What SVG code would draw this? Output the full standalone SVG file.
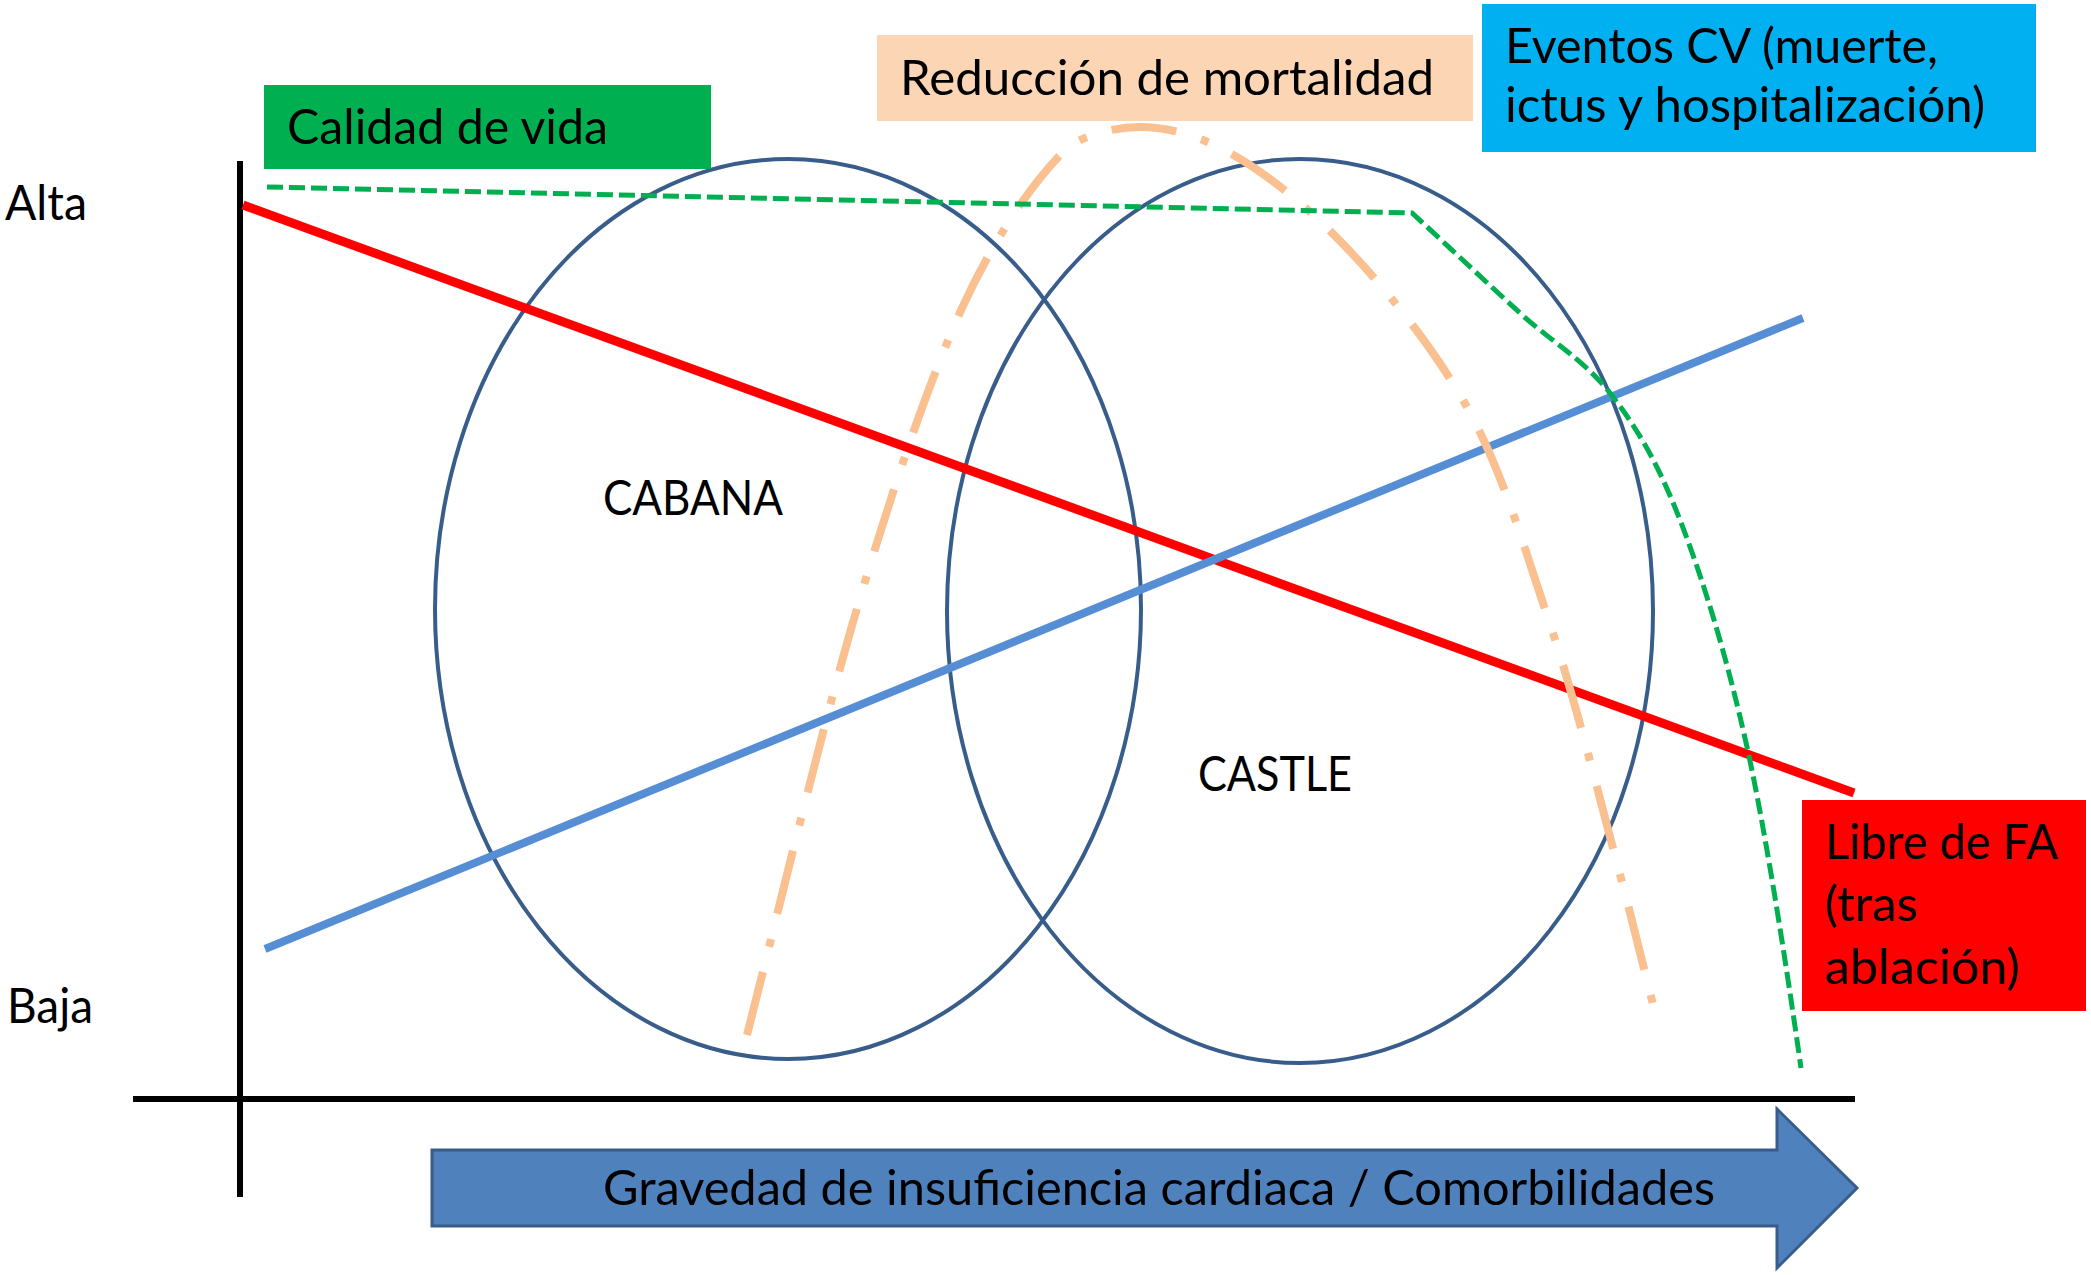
<svg xmlns="http://www.w3.org/2000/svg" width="2091" height="1275" viewBox="0 0 2091 1275">
<style>
  .t { font-family: Lato, "Open Sans", "Liberation Sans", sans-serif; font-size: 48px; fill: #000; }
  .ell { fill: none; stroke: #385D8A; stroke-width: 4; }
  .axis { stroke: #000; stroke-width: 6; fill: none; }
</style>
<rect width="2091" height="1275" fill="#fff"/>

<g id="cabana">
  <ellipse class="ell" cx="788" cy="609" rx="353" ry="450"/>
  <text class="t" x="603" y="515" textLength="180" lengthAdjust="spacingAndGlyphs">CABANA</text>
</g>
<g id="castle">
  <ellipse class="ell" cx="1300" cy="611" rx="353" ry="452"/>
  <text class="t" x="1198" y="791" textLength="154" lengthAdjust="spacingAndGlyphs">CASTLE</text>
</g>

<g id="axes">
  <line class="axis" x1="240" y1="161" x2="240" y2="1197"/>
  <line class="axis" x1="133" y1="1099" x2="1855" y2="1099"/>
  <text class="t" x="5" y="220" textLength="82" lengthAdjust="spacingAndGlyphs">Alta</text>
  <text class="t" x="7" y="1023" textLength="86" lengthAdjust="spacingAndGlyphs">Baja</text>
</g>

<g id="connectors">
  <line id="libre-line" x1="243" y1="205" x2="1854" y2="793" stroke="#FF0000" stroke-width="9"/>
  <line id="eventos-line" x1="265" y1="949" x2="1803" y2="318" stroke="#558ED5" stroke-width="8"/>
  <path id="mortalidad-curve" fill="none" stroke="#FAC090" stroke-width="8" stroke-dasharray="65 26 8 26"
    d="M747,1035 C770,946 822,726 858,605 C894,484 928,384 962,308 C997,232 1035,180 1065,150 C1077,138 1110,127 1140,127 C1190,127 1240,153 1293,197 C1346,241 1415,320 1457,390 C1500,460 1521,539 1548,618 C1575,698 1600,800 1618,867 C1636,934 1646,978 1657,1020"/>
  <path id="calidad-curve" fill="none" stroke="#00B050" stroke-width="5" stroke-dasharray="16 6"
    d="M267,187 L1412,213 C1448,246 1487,283 1520,313 C1553,343 1583,359 1610,393 C1637,428 1657,461 1680,520 C1703,579 1727,657 1747,747 C1767,837 1790,990 1801,1068"/>
</g>

<g id="calidad-label">
  <rect x="264" y="85" width="447" height="84" fill="#00B050"/>
  <text class="t" x="287" y="144" textLength="321" lengthAdjust="spacingAndGlyphs">Calidad de vida</text>
</g>
<g id="mortalidad-label">
  <rect x="877" y="35" width="596" height="86" fill="#FCD5B5"/>
  <text class="t" x="900" y="95" textLength="534" lengthAdjust="spacingAndGlyphs">Reducción de mortalidad</text>
</g>
<g id="eventos-label">
  <rect x="1482" y="4" width="554" height="148" fill="#00B0F0"/>
  <text class="t" x="1505" y="63" textLength="433" lengthAdjust="spacingAndGlyphs">Eventos CV (muerte,</text>
  <text class="t" x="1505" y="122" textLength="480" lengthAdjust="spacingAndGlyphs">ictus y hospitalización)</text>
</g>
<g id="libre-label">
  <rect x="1802" y="800" width="284" height="211" fill="#FF0000"/>
  <text class="t" x="1825" y="859" textLength="233" lengthAdjust="spacingAndGlyphs">Libre de FA</text>
  <text class="t" x="1825" y="921" textLength="93" lengthAdjust="spacingAndGlyphs">(tras</text>
  <text class="t" x="1825" y="984" textLength="195" lengthAdjust="spacingAndGlyphs">ablación)</text>
</g>

<g id="gravedad-arrow">
  <path d="M432,1150 L1777,1150 L1777,1109 L1857,1188 L1777,1268 L1777,1226 L432,1226 Z" fill="#4F81BD" stroke="#385D8A" stroke-width="3"/>
  <text class="t" x="603" y="1205" textLength="1112" lengthAdjust="spacingAndGlyphs">Gravedad de insuficiencia cardiaca / Comorbilidades</text>
</g>
</svg>
